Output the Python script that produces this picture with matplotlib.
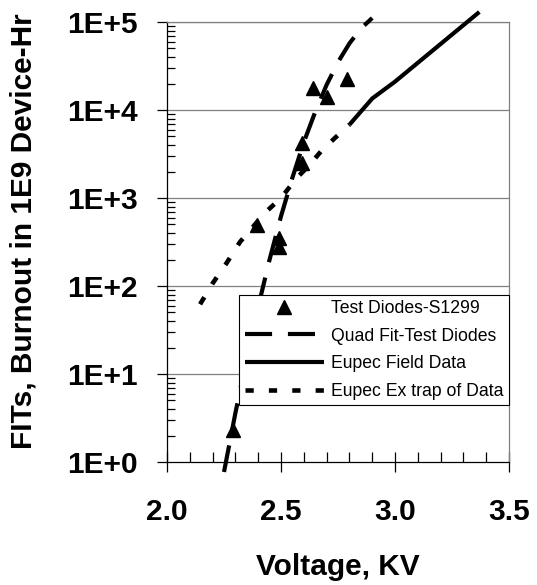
import matplotlib
matplotlib.use('Agg')
import matplotlib.pyplot as plt
from matplotlib.ticker import FixedLocator, LogLocator, MultipleLocator, NullFormatter

# ---- data ----
test_v = [2.29, 2.395, 2.49, 2.49, 2.59, 2.59, 2.64, 2.70, 2.79]
test_fit = [2.3, 490, 350, 275, 4200, 2500, 18000, 14000, 22500]

quad_v = [2.25, 2.30, 2.35, 2.40, 2.45, 2.50, 2.55, 2.60, 2.65, 2.70, 2.75, 2.80, 2.85, 2.90]
quad_fit = [0.77, 3.6, 15.3, 58, 200, 620, 1700, 4300, 9500, 19300, 35000, 57000, 84000, 111000]

field_v = [2.80, 2.90, 3.00, 3.37]
field_fit = [6800, 13500, 21000, 130000]

extrap_v = [2.145, 2.20, 2.26, 2.32, 2.43, 2.50, 2.57, 2.62, 2.68, 2.74, 2.80]
extrap_fit = [62, 107, 180, 316, 680, 1000, 1700, 2300, 3500, 4900, 6800]

x_ticks = [2.0, 2.5, 3.0, 3.5]
x_labels = ["2.0", "2.5", "3.0", "3.5"]
y_ticks = [1, 10, 100, 1000, 10000, 100000]
y_labels = ["1E+0", "1E+1", "1E+2", "1E+3", "1E+4", "1E+5"]

labels = ["Test Diodes-S1299", "Quad Fit-Test Diodes", "Eupec Field Data", "Eupec Ex trap of Data"]

plt.rcParams['font.family'] = ['Liberation Sans', 'DejaVu Sans']

fig = plt.figure(figsize=(5.37, 5.85), dpi=100)
ax = fig.add_axes([167/537, 1 - 462/585, 342/537, 440/585])

ax.set_yscale('log')
ax.set_xlim(2.0, 3.5)
ax.set_ylim(1, 1e5)

ax.plot(test_v, test_fit, linestyle='none', marker='^', markersize=9.5,
        color='black', label=labels[0], zorder=4, clip_on=False)
ax.plot(quad_v, quad_fit, color='black', lw=3, dashes=(6.5, 3.8),
        label=labels[1], zorder=3, clip_on=False, solid_capstyle='butt', dash_capstyle='butt')
ax.plot(field_v, field_fit, color='black', lw=3, label=labels[2],
        zorder=3, clip_on=False, solid_capstyle='butt')
ax.plot(extrap_v, extrap_fit, color='black', lw=3.3, dashes=(1.8, 3.3),
        label=labels[3], zorder=3, clip_on=False, dash_capstyle='butt')

# grid
for yv in y_ticks[1:]:
    ax.axhline(yv, color='#808080', lw=0.9, zorder=1)

for side in ['top', 'right']:
    ax.spines[side].set_color('#808080')
    ax.spines[side].set_linewidth(0.9)
for side in ['left', 'bottom']:
    ax.spines[side].set_color('black')
    ax.spines[side].set_linewidth(0.9)

ax.xaxis.set_major_locator(FixedLocator(x_ticks))
ax.set_xticklabels(x_labels)
ax.xaxis.set_minor_locator(MultipleLocator(0.1))
ax.yaxis.set_major_locator(FixedLocator(y_ticks))
ax.set_yticklabels(y_labels)
ax.yaxis.set_minor_locator(LogLocator(base=10, subs=range(2, 10)))
ax.yaxis.set_minor_formatter(NullFormatter())

ax.tick_params(axis='x', which='major', direction='inout', length=14, width=0.9,
               pad=19, labelsize=21.5)
ax.tick_params(axis='x', which='minor', direction='in', length=7, width=0.9)
ax.tick_params(axis='y', which='major', direction='out', length=7, width=0.9,
               pad=14, labelsize=21.5)
ax.tick_params(axis='y', which='minor', direction='in', length=6, width=0.9)
for t in ax.get_xticklabels() + ax.get_yticklabels():
    t.set_fontweight('bold')

fig.text(338/537, 1 - 567/585, "Voltage, KV", fontsize=21.5, fontweight='bold',
         ha='center', va='center')
fig.text(24/537, 1 - 231.5/585, "FITs, Burnout in 1E9 Device-Hr", fontsize=21.5,
         fontweight='bold', rotation=90, ha='center', va='center')

leg = ax.legend(loc='lower right', bbox_to_anchor=(1.0, 0.1295),
                borderaxespad=0, fancybox=False, framealpha=1,
                edgecolor='black', fontsize=12.7, handlelength=4.5,
                handletextpad=0.4, borderpad=0.3, labelspacing=0.6)
leg.get_frame().set_linewidth(0.8)
leg.set_zorder(6)

fig.savefig('out.png', dpi=100)
